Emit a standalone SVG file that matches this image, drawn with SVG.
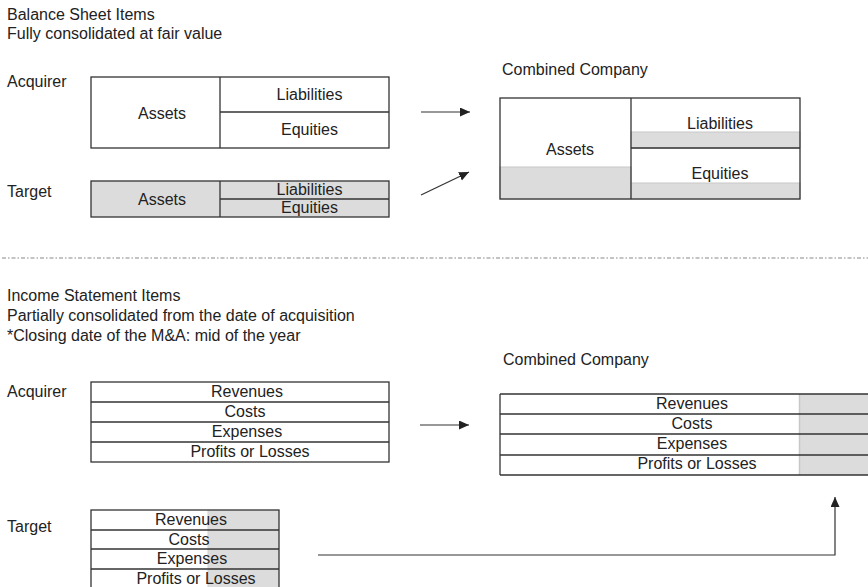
<svg xmlns="http://www.w3.org/2000/svg" width="868" height="587" viewBox="0 0 868 587">
<style>
text{font-family:"Liberation Sans",Arial,sans-serif;font-size:16px;fill:#222}
.c{text-anchor:middle}
.box{fill:none;stroke:#333;stroke-width:1.3}
.g{fill:#dcdcdc;stroke:none}
.gl{fill:#dcdcdc;stroke:#c8c8c8;stroke-width:1}
.ln{stroke:#333;stroke-width:1.3;fill:none}
.conn{stroke:#333;stroke-width:1.2;fill:none;marker-end:url(#ah)}
</style>
<defs>
<marker id="ah" markerUnits="userSpaceOnUse" markerWidth="11" markerHeight="10" refX="10" refY="4.5" orient="auto">
<path d="M0,0 L10,4.5 L0,9 z" fill="#222"/>
</marker>
</defs>
<rect width="868" height="587" fill="#fff"/>

<g id="headers">
<text x="7" y="20">Balance Sheet Items</text>
<text x="7" y="39">Fully consolidated at fair value</text>
<text x="7" y="301">Income Statement Items</text>
<text x="7" y="321">Partially consolidated from the date of acquisition</text>
<text x="7" y="341">*Closing date of the M&amp;A: mid of the year</text>
</g>

<g id="separator">
<line x1="2" y1="258" x2="868" y2="258" stroke="#888" stroke-width="1.2" stroke-dasharray="4 2 1.5 2"/>
</g>

<g id="bs-acquirer">
<text x="7" y="87">Acquirer</text>
<rect class="box" x="91" y="77" width="298" height="71"/>
<line class="ln" x1="220" y1="77" x2="220" y2="148"/>
<line class="ln" x1="220" y1="112" x2="389" y2="112"/>
<text class="c" x="162" y="119">Assets</text>
<text class="c" x="309.5" y="100">Liabilities</text>
<text class="c" x="309.5" y="135">Equities</text>
</g>

<g id="bs-target">
<text x="7" y="197">Target</text>
<rect class="g" x="91" y="181" width="298" height="36"/>
<rect class="box" x="91" y="181" width="298" height="36"/>
<line class="ln" x1="220" y1="181" x2="220" y2="217"/>
<line class="ln" x1="220" y1="199" x2="389" y2="199"/>
<text class="c" x="162" y="205">Assets</text>
<text class="c" x="309.5" y="195">Liabilities</text>
<text class="c" x="309.5" y="213">Equities</text>
</g>

<g id="bs-combined">
<text x="502" y="75">Combined Company</text>
<rect class="gl" x="500" y="167" width="131" height="32"/>
<rect class="gl" x="631" y="132" width="169" height="16"/>
<rect class="gl" x="631" y="183" width="169" height="16"/>
<rect class="box" x="500" y="98" width="300" height="101"/>
<line class="ln" x1="631" y1="98" x2="631" y2="199"/>
<line class="ln" x1="631" y1="148" x2="800" y2="148"/>
<text class="c" x="570" y="155">Assets</text>
<text class="c" x="720" y="129">Liabilities</text>
<text class="c" x="720" y="179">Equities</text>
</g>

<g id="is-acquirer">
<text x="7" y="397">Acquirer</text>
<rect class="box" x="91" y="382" width="298" height="80"/>
<line class="ln" x1="91" y1="402" x2="389" y2="402"/>
<line class="ln" x1="91" y1="422" x2="389" y2="422"/>
<line class="ln" x1="91" y1="442" x2="389" y2="442"/>
<text class="c" x="247" y="397">Revenues</text>
<text class="c" x="245" y="417">Costs</text>
<text class="c" x="247" y="437">Expenses</text>
<text class="c" x="250" y="457">Profits or Losses</text>
</g>

<g id="is-target">
<text x="7" y="532">Target</text>
<rect class="g" x="208" y="510" width="71" height="79"/>
<line x1="208" y1="510" x2="208" y2="589" stroke="#cfcfcf" stroke-width="1"/>
<rect class="box" x="91" y="510" width="188" height="80"/>
<line class="ln" x1="91" y1="530" x2="279" y2="530"/>
<line class="ln" x1="91" y1="549" x2="279" y2="549"/>
<line class="ln" x1="91" y1="569" x2="279" y2="569"/>
<text class="c" x="191" y="525">Revenues</text>
<text class="c" x="189" y="545">Costs</text>
<text class="c" x="192" y="564">Expenses</text>
<text class="c" x="196" y="584">Profits or Losses</text>
</g>

<g id="is-combined">
<text x="503" y="365">Combined Company</text>
<rect class="g" x="799" y="394" width="69" height="81"/>
<line x1="799.5" y1="394" x2="799.5" y2="475" stroke="#c8c8c8" stroke-width="1.5"/>
<line class="ln" x1="500" y1="394" x2="500" y2="475"/>
<line class="ln" x1="500" y1="394" x2="868" y2="394"/>
<line class="ln" x1="500" y1="414" x2="868" y2="414"/>
<line class="ln" x1="500" y1="434" x2="868" y2="434"/>
<line class="ln" x1="500" y1="455" x2="868" y2="455"/>
<line class="ln" x1="500" y1="475" x2="868" y2="475"/>
<text class="c" x="692" y="409">Revenues</text>
<text class="c" x="692" y="429">Costs</text>
<text class="c" x="692" y="449">Expenses</text>
<text class="c" x="697" y="469">Profits or Losses</text>
</g>

<g id="connectors">
<line class="conn" x1="421" y1="112" x2="470" y2="112"/>
<line class="conn" x1="421" y1="195" x2="469" y2="172"/>
<line class="conn" x1="420" y1="425" x2="469" y2="425"/>
<path class="conn" d="M318,555 L835,555 L835,497"/>
</g>
</svg>
